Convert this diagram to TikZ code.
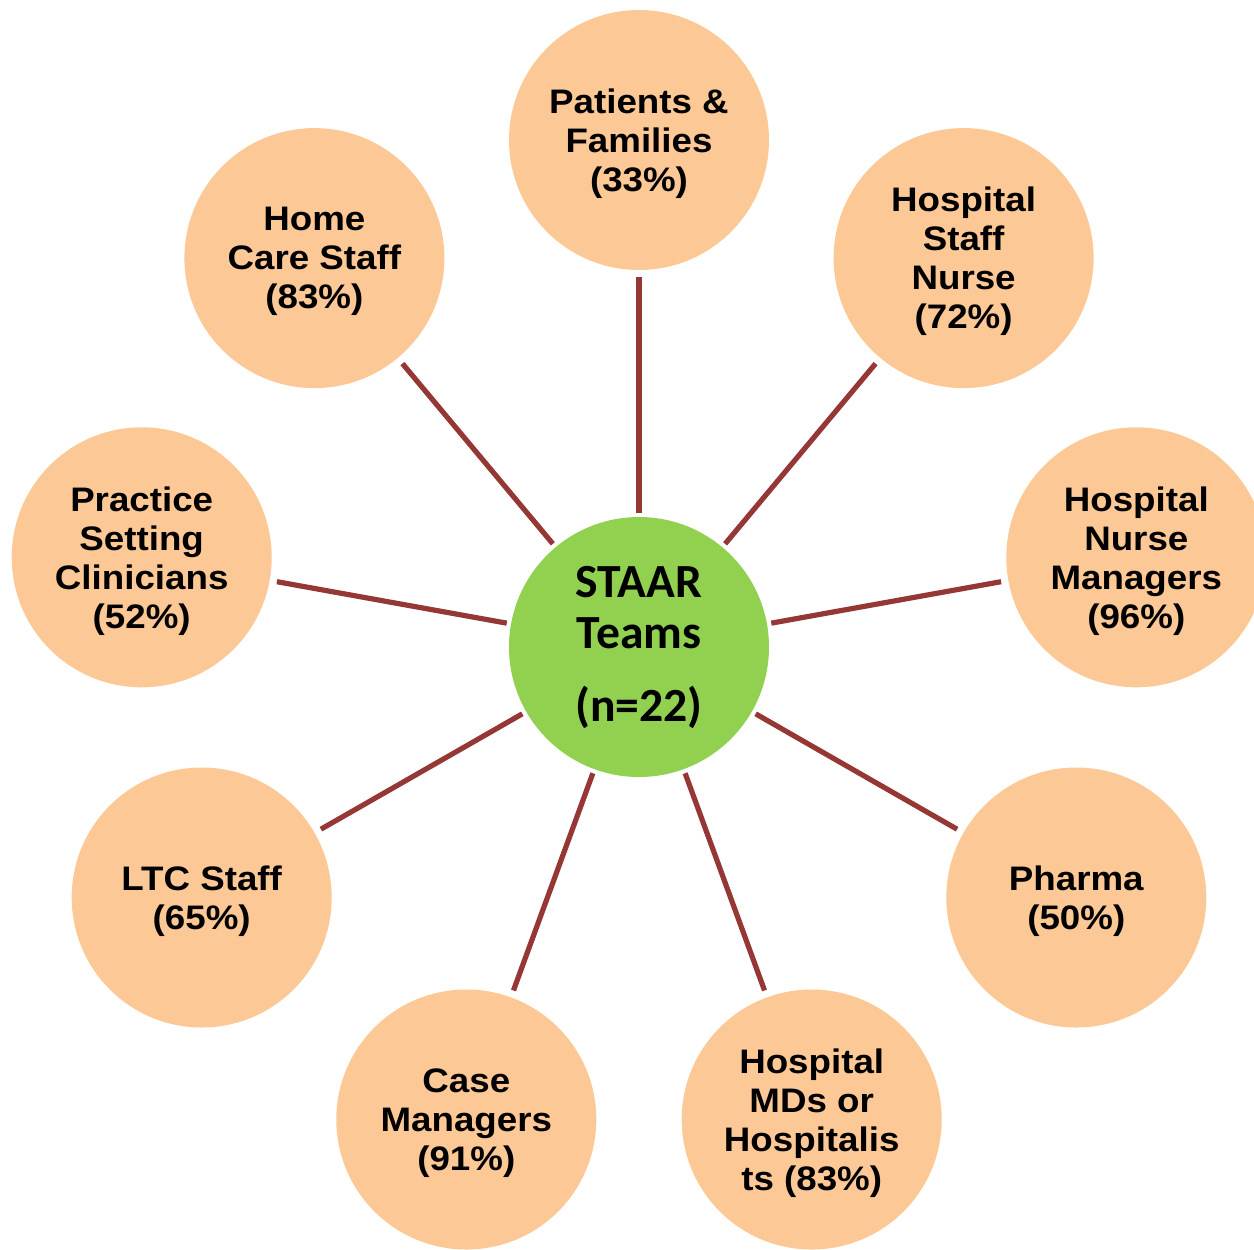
\documentclass[tikz,border=0pt]{standalone}
\usepackage{fontspec}
\setmainfont{Liberation Sans}
\newfontfamily\rolefont[FakeStretch=1.08]{Liberation Sans}
\newfontfamily\teamfont{Carlito}
\definecolor{peach}{HTML}{FCC896}
\definecolor{leaf}{HTML}{92D050}
\definecolor{linkred}{HTML}{953735}

\begin{document}
\begin{tikzpicture}[x=0.5pt,y=-0.5pt,
    team/.style={circle,fill=leaf,minimum size=130pt,inner sep=0pt,align=center,
      font=\teamfont\bfseries\fontsize{23.8}{25.5}\selectfont},
    role/.style={circle,fill=peach,minimum size=130pt,inner sep=0pt,align=center,
      font=\rolefont\bfseries\fontsize{17}{19.5}\selectfont,text depth=0pt},
    link/.style={draw=linkred,line width=2.6pt,shorten <=2pt,shorten >=3.5pt}]
              \useasboundingbox (0,0) rectangle (1254,1249);
              % hub
              \node[team](st)at(639,647){STAAR\\Teams\\[11pt](n=22)};
              % outer ring, 40 degrees apart
              \node[role](pf)at(639,140){Patients \&\\Families\\(33\%)};
              \node[role](hsn)at(963.6,258.1){Hospital\\Staff\\Nurse\\(72\%)};
              \node[role](hnm)at(1136.3,557.3){Hospital\\Nurse\\Managers\\(96\%)};
              \node[role](ph)at(1076.3,897.5){Pharma\\(50\%)};
              \node[role](md)at(811.7,1119.5){Hospital\\MDs or\\Hospitalis\\ts (83\%)};
              \node[role](cm)at(466.3,1119.5){Case\\Managers\\(91\%)};
              \node[role](ltc)at(201.7,897.5){LTC Staff\\(65\%)};
              \node[role](psc)at(141.7,557.3){Practice\\Setting\\Clinicians\\(52\%)};
              \node[role](hc)at(314.4,258.1){Home\\Care Staff\\(83\%)};
              \foreach \n in {pf,hsn,hnm,ph,md,cm,ltc,psc,hc}
                \draw[link](st)--(\n);
            \end{tikzpicture}
\end{document}
